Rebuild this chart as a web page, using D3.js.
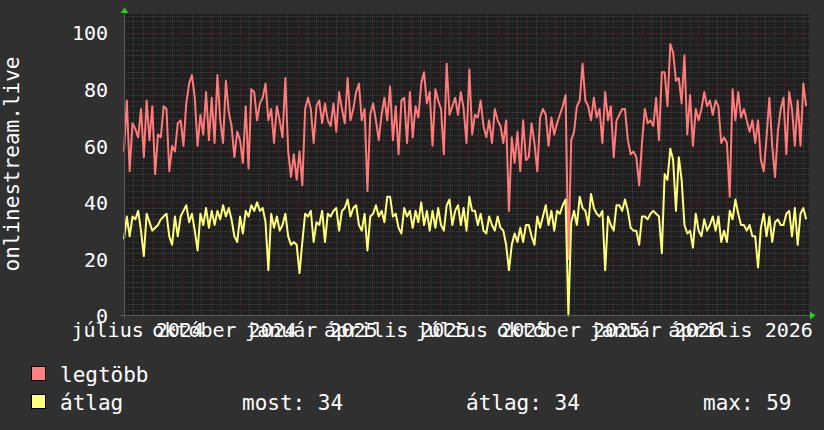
<!DOCTYPE html>
<html><head><meta charset="utf-8">
<script src="https://cdn.jsdelivr.net/npm/d3@7"></script>
<style>
html,body{margin:0;padding:0;background:#303030;}
svg{display:block;}
</style></head><body>
<svg id="c" width="824" height="430"></svg>
<script>
// ---- data ----
const startDate = [2024, 6, 1];      // 1 July 2024 (UTC)
const endDate = [2026, 5, 27];       // right edge of the time axis
const stepDays = 3;                  // spacing between samples
const legtobb = [
58,76,51,68,66,63,73,56,76,62,74,50,64,63,74,73,51,60,58,68,69,60,75,82,85,77,60,71,64,79,62,77,61,85,69,61,83,72,67,56,65,62,54,74,52,80,79,69,75,
77,82,69,73,61,74,69,63,84,58,49,57,48,58,46,73,77,73,61,74,76,68,75,69,67,75,65,79,73,68,84,69,73,79,82,69,73,44,71,75,69,62,71,77,69,81,62,
74,57,76,77,61,79,63,74,70,82,86,75,79,60,80,76,73,57,89,71,74,77,71,79,73,61,87,64,71,70,76,67,63,69,61,73,69,67,61,69,37,63,54,65,51,69,55,
56,68,61,51,70,73,71,60,70,64,68,71,74,78,20,62,65,74,76,89,76,74,69,77,70,73,61,79,69,74,56,69,71,73,73,62,57,58,56,46,61,73,68,69,67,77,62,86,
86,74,96,93,83,84,75,92,64,78,60,73,69,73,79,74,76,71,76,74,61,63,61,42,80,69,79,70,73,69,65,69,61,69,55,51,63,77,60,49,65,73,77,57,79,73,60,76,60,82,74
];
const atlag = [
27,35,28,35,34,37,30,21,36,33,30,31,32,34,35,36,28,25,35,28,35,37,39,33,36,30,23,36,32,38,31,37,32,37,34,39,35,38,34,28,26,35,29,37,35,39,37,40,37,
38,33,16,36,31,35,30,32,36,28,25,26,25,15,26,36,35,37,26,33,32,37,26,36,35,37,38,30,37,38,41,35,38,39,32,30,36,23,35,36,39,35,37,33,42,42,35,
36,31,29,38,35,37,31,37,33,40,32,37,30,37,31,38,32,30,39,41,32,37,39,32,38,30,42,37,37,32,36,30,29,35,32,30,35,31,30,25,16,25,29,26,31,26,32,
32,28,25,35,31,35,39,32,37,30,37,36,39,41,0,33,37,32,42,38,37,32,43,38,36,35,37,16,35,32,30,39,39,37,41,37,31,30,30,25,35,35,34,36,37,36,35,22,
50,48,59,55,37,56,48,32,29,30,24,36,30,28,34,30,32,35,30,35,26,30,26,37,34,41,36,32,32,30,32,28,28,17,31,36,28,35,26,33,34,32,32,36,37,28,38,25,36,38,34
];
const tickLabels = ["július 2024","október 2024","január 2025","április 2025","július 2025","október 2025","január 2026","április 2026"];
const tickDates = [[2024,6,15],[2024,9,15],[2025,0,15],[2025,3,15],[2025,6,15],[2025,9,15],[2026,0,15],[2026,3,15]];
const yTicks = [0,20,40,60,80,100];
const seriesNames = ["legtöbb","átlag"];
const seriesColors = ["#ff7a7a","#ffff78"];
const legendStats = ["most: 34","átlag: 34","max: 59"];
const yTitle = "onlinestream.live";

// ---- drawing ----
const FONT = "'DejaVu Sans Mono', monospace";
const svg = d3.select("#c");
const utc = a => new Date(Date.UTC(a[0], a[1], a[2]));
const t0 = utc(startDate), t1 = utc(endDate);
const x = d3.scaleUtc().domain([t0, t1]).range([124, 809]);
const y = d3.scaleLinear().domain([0, 100]).range([315.5, 32.7]);
const plotTop = 14, plotBottom = 315.5;
const dates = legtobb.map((_, i) => d3.utcDay.offset(t0, i * stepDays));

svg.append("rect").attr("x", 0).attr("y", 0).attr("width", 824).attr("height", 430).attr("fill", "#303030");
svg.append("rect").attr("x", x(t0)).attr("y", plotTop).attr("width", x(t1) - x(t0)).attr("height", plotBottom - plotTop).attr("fill", "#1f1f1f");

const grid = svg.append("g").attr("stroke-dasharray", "1,1").attr("stroke-width", 1).attr("fill", "none");
const minorCol = "#404040", majorCol = "#5c2626";
// horizontal minor grid
const hMinor = d3.range(2, 107, 2).filter(v => v % 20 !== 0);
grid.selectAll("line.hm").data(hMinor).join("line")
  .attr("x1", x(t0)).attr("x2", x(t1))
  .attr("y1", d => Math.round(y(d)) + 0.5).attr("y2", d => Math.round(y(d)) + 0.5)
  .attr("stroke", minorCol);
// vertical grid
const days = d3.utcDay.range(d3.utcDay.offset(t0, 1), t1);
const vMinor = days.filter(d => d.getUTCDate() === 11 || d.getUTCDate() === 21);
const vMajor = days.filter(d => d.getUTCDate() === 1);
grid.selectAll("line.vm").data(vMinor).join("line")
  .attr("x1", d => Math.round(x(d)) + 0.5).attr("x2", d => Math.round(x(d)) + 0.5)
  .attr("y1", plotTop).attr("y2", plotBottom)
  .attr("stroke", minorCol);
grid.selectAll("line.vM").data(vMajor).join("line")
  .attr("x1", d => Math.round(x(d)) + 0.5).attr("x2", d => Math.round(x(d)) + 0.5)
  .attr("y1", plotTop).attr("y2", plotBottom)
  .attr("stroke", majorCol);
grid.selectAll("line.hM").data(yTicks.filter(v => v > 0)).join("line")
  .attr("x1", x(t0)).attr("x2", x(t1))
  .attr("y1", d => Math.round(y(d)) + 0.5).attr("y2", d => Math.round(y(d)) + 0.5)
  .attr("stroke", majorCol);

// series
const line = d3.line().x((d, i) => x(dates[i])).y(d => y(d));
[legtobb, atlag].forEach((s, k) => {
  svg.append("path").datum(s).attr("d", line)
    .attr("fill", "none").attr("stroke", seriesColors[k])
    .attr("stroke-width", 2).attr("stroke-linejoin", "round");
});

// axis lines + arrows
svg.append("line").attr("x1", 120).attr("x2", 811).attr("y1", 315.5).attr("y2", 315.5).attr("stroke", "#5a5a5a");
svg.append("line").attr("x1", 124.5).attr("x2", 124.5).attr("y1", 319).attr("y2", 12).attr("stroke", "#5a5a5a");
svg.append("path").attr("d", "M120.5,13 L128.5,13 L124.5,7.5 Z").attr("fill", "#20d020");
svg.append("path").attr("d", "M810,311.5 L810,319.5 L815.5,315.5 Z").attr("fill", "#20d020");

// y axis labels
const yAxis = svg.append("g").attr("transform", "translate(124,0)")
  .call(d3.axisLeft(y).tickValues(yTicks).tickSize(0).tickPadding(16).tickFormat(d3.format("d")));
yAxis.select(".domain").remove();
yAxis.selectAll("text").attr("fill", "#ffffff").attr("font-family", FONT).attr("font-size", 20).attr("dy", "0.36em");

// x axis labels
const xAxis = svg.append("g").attr("transform", "translate(0,315.5)")
  .call(d3.axisBottom(x).tickValues(tickDates.map(utc)).tickSize(0).tickPadding(7).tickFormat((d, i) => tickLabels[i]));
xAxis.select(".domain").remove();
xAxis.selectAll("text").attr("fill", "#ffffff").attr("font-family", FONT).attr("font-size", 20);

// y title
svg.append("text").attr("transform", "translate(19,164) rotate(-90)")
  .attr("text-anchor", "middle").attr("fill", "#ffffff")
  .attr("font-family", FONT).attr("font-size", 21).text(yTitle);

// legend
const lg = svg.append("g").attr("font-family", FONT).attr("font-size", 21).attr("fill", "#ffffff");
const legRows = [366, 394];
seriesNames.forEach((n, k) => {
  lg.append("rect").attr("x", 31.5).attr("y", legRows[k] + 0.5).attr("width", 14).attr("height", 14)
    .attr("fill", k === 0 ? "#ff8080" : "#ffff80").attr("stroke", "#000").attr("stroke-width", 1);
  lg.append("text").attr("x", 60).attr("y", legRows[k] + 16).text(n);
});
const statX = [242, 466, 703];
legendStats.forEach((s, k) => lg.append("text").attr("x", statX[k]).attr("y", legRows[1] + 16).text(s));
</script>
</body></html>
